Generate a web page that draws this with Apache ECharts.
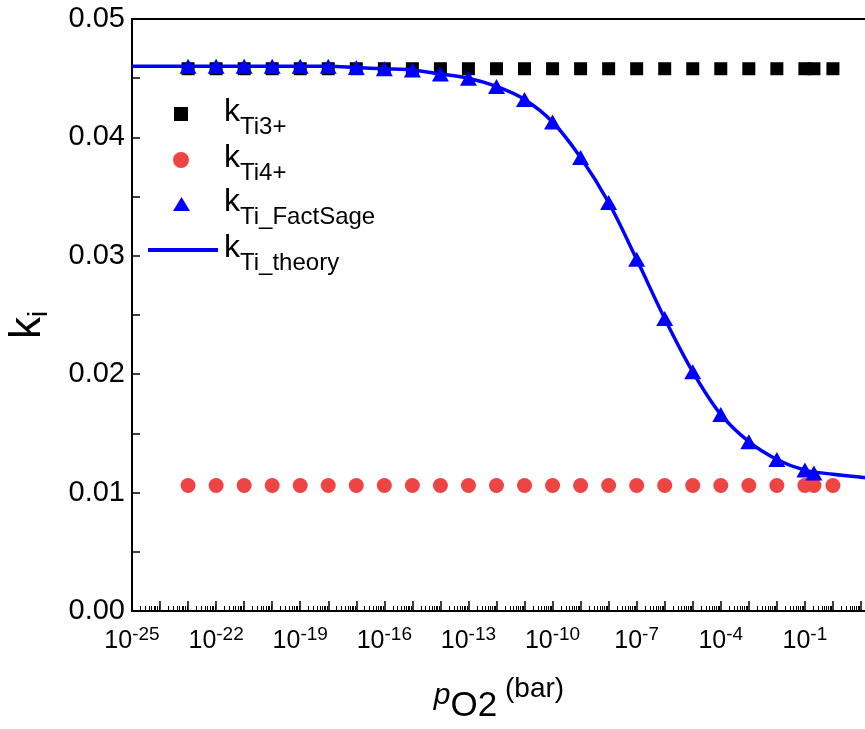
<!DOCTYPE html>
<html>
<head>
<meta charset="utf-8">
<script src="https://cdn.jsdelivr.net/npm/echarts@6/dist/echarts.min.js"></script>
<style>
  html, body { margin: 0; padding: 0; background: #fff; overflow: hidden; }
  #main { width: 910px; height: 729px; }
</style>
</head>
<body>
<div id="main"></div>
<script>
// pO2 (bar) of the data points
var pO2Points = [1e-23, 1e-22, 1e-21, 1e-20, 1e-19, 1e-18, 1e-17, 1e-16, 1e-15, 1e-14, 1e-13, 1e-12,
    1e-11, 1e-10, 1e-9, 1e-8, 1e-7, 1e-6, 1e-5, 1e-4, 1e-3, 1e-2, 1e-1, 0.21, 1];
var kTi3 = [0.0458, 0.0458, 0.0458, 0.0458, 0.0458, 0.0458, 0.0458, 0.0458, 0.0458, 0.0458, 0.0458, 0.0458,
    0.0458, 0.0458, 0.0458, 0.0458, 0.0458, 0.0458, 0.0458, 0.0458, 0.0458, 0.0458, 0.0458, 0.0458, 0.0458];
var kTi4 = [0.0106, 0.0106, 0.0106, 0.0106, 0.0106, 0.0106, 0.0106, 0.0106, 0.0106, 0.0106, 0.0106, 0.0106,
    0.0106, 0.0106, 0.0106, 0.0106, 0.0106, 0.0106, 0.0106, 0.0106, 0.0106, 0.0106, 0.0106, 0.0106, 0.0106];
var factSageP = [1e-23, 1e-22, 1e-21, 1e-20, 1e-19, 1e-18, 1e-17, 1e-16, 1e-15, 1e-14, 1e-13, 1e-12,
    1e-11, 1e-10, 1e-9, 1e-8, 1e-7, 1e-6, 1e-5, 1e-4, 1e-3, 1e-2, 1e-1, 0.21];
var kFactSage = [0.0460, 0.0460, 0.0460, 0.0460, 0.0460, 0.0460, 0.0459, 0.0458, 0.0457, 0.04535, 0.0450, 0.0443,
    0.0432, 0.0413, 0.0383, 0.0345, 0.0297, 0.0247, 0.0202, 0.0166, 0.0143, 0.0128, 0.0119, 0.01165];
var theoryP = [1e-25, 1e-24, 1e-22, 1e-20, 1e-18, 1e-17, 1e-16, 1e-15, 1e-14, 1e-13, 1e-12, 1e-11, 1e-10,
    1e-9, 1e-8, 1e-7, 1e-6, 1e-5, 1e-4, 1e-3, 1e-2, 1e-1, 1, 10, 100];
var kTheory = [0.0460, 0.0460, 0.0460, 0.0460, 0.0460, 0.0459, 0.0458, 0.0457, 0.04535, 0.0450, 0.0443, 0.0432, 0.0413,
    0.0383, 0.0345, 0.0297, 0.0247, 0.0202, 0.0166, 0.0143, 0.0128, 0.0119, 0.01155, 0.0113, 0.0111];
// tick labels on the x axis (exponents of 10)
var xLabelExp = [-25, -22, -19, -16, -13, -10, -7, -4, -1, 2];
var yMin = 0, yMax = 0.05, yStep = 0.01;

var FONT = '"Liberation Sans", Arial, sans-serif';

function pairs(xs, ys) {
    var res = [];
    for (var i = 0; i < xs.length; i++) {
        res.push([xs[i], ys[i]]);
    }
    return res;
}

// decade ticks and log minor ticks
var majorTicks = [], minorTicks = [];
for (var e = -25; e <= 2; e++) {
    majorTicks.push(Math.pow(10, e));
    if (e < 2) {
        for (var m = 2; m <= 9; m++) minorTicks.push(m * Math.pow(10, e));
    }
}
var labelTicks = xLabelExp.map(function (n) { return Math.pow(10, n); });

// one legend per row, so each symbol can sit where it sits in the figure
// (rich tokens share lineHeight; a top padding pushes a token down by half of it)
function legendFor(item, left, iconY, w, h, pad) {
    return {
        data: [item],
        left: left,
        top: iconY - 25,
        padding: 0,
        itemWidth: w,
        itemHeight: h,
        selectedMode: false,
        formatter: function (n) {
            return '{k|k}{s|' + n.slice(1) + '}';
        },
        textStyle: {
            color: '#000',
            fontFamily: FONT,
            lineHeight: 32,
            rich: {
                k: { fontSize: 32, lineHeight: 32, fontFamily: FONT, color: '#000', padding: [0, 0, 4, pad] },
                s: { fontSize: 24, lineHeight: 32, fontFamily: FONT, color: '#000', padding: [26, 0, 0, 0] }
            }
        }
    };
}

var chart = echarts.init(document.getElementById('main'));
var option = {
    animation: false,
    backgroundColor: '#fff',
    grid: {
        left: 132, right: 21, top: 19, bottom: 118,
        outerBoundsMode: 'none',
        containLabel: false,
        show: true, borderColor: '#000', borderWidth: 2
    },
    legend: [
        legendFor('kTi3+', 174, 114, 14, 14, 31),
        legendFor('kTi4+', 173, 160, 16, 16, 30),
        legendFor('kTi_FactSage', 173, 204, 17, 14, 29),
        legendFor({ name: 'kTi_theory', icon: 'rect' }, 148, 250, 70, 4, 1)
    ],
    xAxis: [{
        type: 'log',
        logBase: 10,
        min: 1e-25,
        max: 1e2,
        position: 'bottom',
        name: '{p|p}{o|O2}{u| (bar)}',
        nameLocation: 'middle',
        nameGap: 61,
        nameMoveOverlap: false,
        nameTextStyle: {
            padding: [0, 23, 0, 0],
            lineHeight: 30,
            rich: {
                p: { fontSize: 30, lineHeight: 30, fontStyle: 'italic', fontFamily: FONT, color: '#000', padding: [18, 0, 0, 0] },
                o: { fontSize: 35, lineHeight: 30, fontFamily: FONT, color: '#000', padding: [38, 0, 0, 0] },
                u: { fontSize: 28, lineHeight: 30, fontFamily: FONT, color: '#000', padding: [4, 0, 0, 0] }
            }
        },
        axisLine: { lineStyle: { color: '#000', width: 2 } },
        axisTick: { inside: true, length: 10, customValues: majorTicks, lineStyle: { color: '#000', width: 1.5 } },
        splitLine: { show: false },
        axisLabel: {
            customValues: labelTicks,
            margin: 14,
            formatter: function (v) {
                var n = Math.round(Math.log10(v));
                return '{b|10}{e|' + n + '}';
            },
            rich: {
                b: { fontSize: 25, lineHeight: 25, fontFamily: FONT, color: '#000', padding: [7, 0, 0, 0] },
                e: { fontSize: 19, lineHeight: 19, fontFamily: FONT, color: '#000', verticalAlign: 'top' }
            }
        }
    }, {
        type: 'log',
        logBase: 10,
        min: 1e-25,
        max: 1e2,
        position: 'bottom',
        axisLine: { show: false },
        axisTick: { inside: true, length: 5, customValues: minorTicks, lineStyle: { color: '#000', width: 1 } },
        axisLabel: { show: false },
        splitLine: { show: false }
    }],
    yAxis: {
        type: 'value',
        min: yMin,
        max: yMax,
        interval: yStep,
        name: '{k|k}{i|i}',
        nameLocation: 'middle',
        nameRotate: 90,
        nameGap: 79,
        nameMoveOverlap: false,
        nameTextStyle: {
            padding: [0, 20, 0, 0],
            rich: {
                k: { fontSize: 44, lineHeight: 44, fontFamily: FONT, color: '#000', padding: [0, 0, 6, 0] },
                i: { fontSize: 28, lineHeight: 28, fontFamily: FONT, color: '#000', verticalAlign: 'bottom' }
            }
        },
        axisLine: { show: true, lineStyle: { color: '#000', width: 2 } },
        axisTick: { inside: true, length: 8, lineStyle: { color: '#000', width: 1.5 } },
        minorTick: { show: true, splitNumber: 2, length: 8, lineStyle: { color: '#000', width: 1.5 } },
        splitLine: { show: false },
        axisLabel: {
            fontSize: 29,
            fontFamily: FONT,
            color: '#000',
            margin: 7,
            formatter: function (v) { return v.toFixed(2); }
        }
    },
    series: [{
        name: 'kTi3+',
        type: 'scatter',
        symbol: 'rect',
        symbolSize: 13,
        itemStyle: { color: '#000', opacity: 1 },
        data: pairs(pO2Points, kTi3),
        z: 2
    }, {
        name: 'kTi4+',
        type: 'scatter',
        symbol: 'circle',
        symbolSize: 15,
        itemStyle: { color: '#ee4444', opacity: 1 },
        data: pairs(pO2Points, kTi4),
        z: 2
    }, {
        name: 'kTi_FactSage',
        type: 'scatter',
        symbol: 'triangle',
        symbolSize: [17, 15],
        itemStyle: { color: '#0000ff', opacity: 1 },
        data: pairs(factSageP, kFactSage),
        z: 4
    }, {
        name: 'kTi_theory',
        type: 'line',
        symbol: 'none',
        smooth: 0.35,
        lineStyle: { color: '#0000ff', width: 3.5 },
        itemStyle: { color: '#0000ff' },
        data: pairs(theoryP, kTheory),
        z: 3
    }]
};
chart.setOption(option);
window.addEventListener('resize', function () {
    chart.resize();
});
</script>
</body>
</html>
